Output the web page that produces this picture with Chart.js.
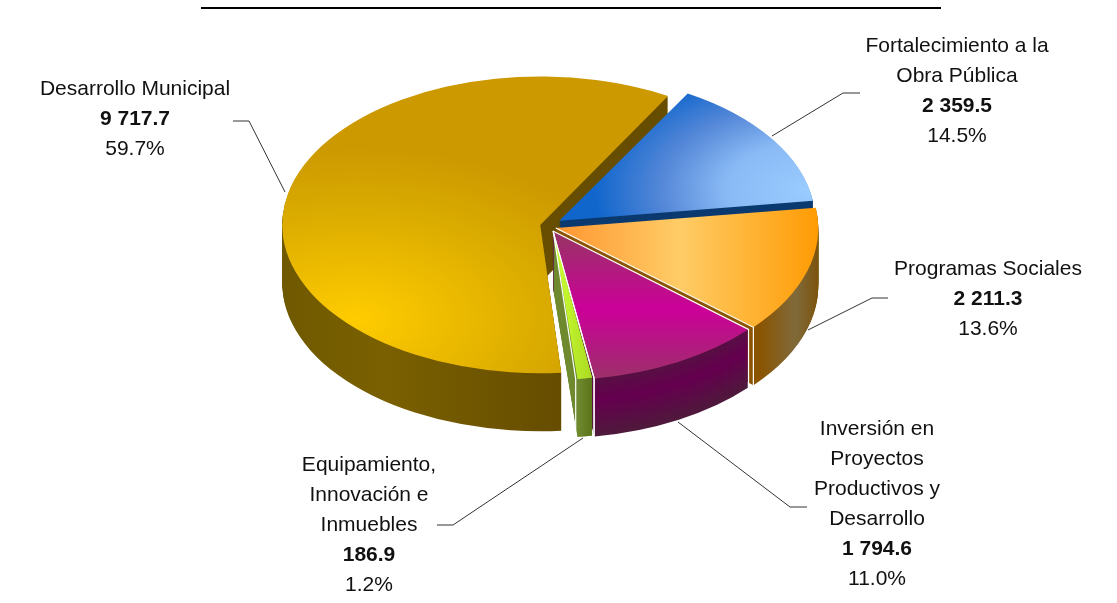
<!DOCTYPE html>
<html>
<head>
<meta charset="utf-8">
<style>
  html, body { margin: 0; padding: 0; background: #fff; }
  #wrap { width: 1117px; height: 603px; }
</style>
<script src="https://cdn.jsdelivr.net/npm/chart.js@4"></script>
</head>
<body>
<div id="wrap"><canvas id="myChart" width="1117" height="603"></canvas></div>
<script>
const categories = ['Desarrollo Municipal', 'Fortalecimiento a la Obra Pública', 'Programas Sociales', 'Inversión en Proyectos Productivos y Desarrollo', 'Equipamiento, Innovación e Inmuebles'];
const values = [9717.7, 2359.5, 2211.3, 1794.6, 186.9];
const valueLabels = ['9 717.7', '2 359.5', '2 211.3', '1 794.6', '186.9'];
const percentLabels = ['59.7%', '14.5%', '13.6%', '11.0%', '1.2%'];
const nameLines = [
  ['Desarrollo Municipal'],
  ['Fortalecimiento a la', 'Obra Pública'],
  ['Programas Sociales'],
  ['Inversión en', 'Proyectos', 'Productivos y', 'Desarrollo'],
  ['Equipamiento,', 'Innovación e', 'Inmuebles']
];
const baseColors = ['#CC9900', '#3377DD', '#FFBB55', '#CC0099', '#BBEE22'];

// layout of the fake 3D pie, in page pixels
const CX = 549, CY = 226, TILT = 0.575, DEPTH = 58;
const radiusTweak = [-3, 2, 9, 5, -8];
const sliceNudge = [[0, 0], [2, -2], [1, 1], [0, 1], [3, 0]];
const whiteEdges = [false, false, true, true, true];
const labelBoxes = [[135, 89], [957, 46], [988, 269], [877, 429], [369, 465]];
const leaders = [
  [[233, 121], [249, 121], [285, 192]],
  [[860, 93], [843, 93], [772, 136]],
  [[888, 298], [872, 298], [808, 330]],
  [[807, 507], [790, 507], [678, 422]],
  [[437, 525], [453, 525], [583, 438]]
];

function mix(a, b, t) {
  const pa = [1, 3, 5].map(n => parseInt(a.substr(n, 2), 16));
  const pb = [1, 3, 5].map(n => parseInt(b.substr(n, 2), 16));
  return 'rgb(' + pa.map((v, n) => Math.round(v + (pb[n] - v) * t)).join(',') + ')';
}

const pie3d = {
  id: 'pie3d',
  beforeDatasetDraw(chart, args) {
    const ctx = chart.ctx;
    const arcs = args.meta.data;
    const ax = arcs[0].x, ay = arcs[0].y;
    // page coords -> chart coords under the tilt transform
    const fx = x => x - CX + ax;
    const fy = y => (y - CY) / TILT + ay;
    const linear = (x0, y0, x1, y1, stops) => {
      const g = ctx.createLinearGradient(fx(x0), fy(y0), fx(x1), fy(y1));
      stops.forEach(s => g.addColorStop(s[0], s[1]));
      return g;
    };
    const radial = (x, y, r, stops) => {
      const g = ctx.createRadialGradient(fx(x), fy(y), 0, fx(x), fy(y), r);
      stops.forEach(s => g.addColorStop(s[0], s[1]));
      return g;
    };
    const faces = [
      radial(365, 320, 300, [[0, '#FFCC00'], [0.65, '#D9AA00'], [1, '#CC9900']]),
      radial(800, 195, 240, [[0, '#99CCFF'], [0.35, '#8ABAF5'], [0.62, '#5588D8'], [0.9, '#1166CC'], [1, '#1166CC']]),
      linear(555, 0, 818, 0, [[0, '#FF9933'], [0.45, '#FFCC66'], [1, '#FF9900']]),
      linear(0, 230, 0, 378, [[0, '#993366'], [0.5, '#CC0099'], [1, '#993366']]),
      linear(550, 0, 590, 0, [[0, '#CCFF33'], [1, '#A8D820']])
    ];
    const walls = [
      () => linear(281, 0, 565, 0, [[0, '#6E5800'], [0.4, '#7A6000'], [1, '#664D00']]),
      () => '#0B3A70',
      () => linear(752, 0, 818, 0, [[0, '#8A5400'], [0.55, '#806A3A'], [1, '#7A4E00']]),
      d => mix('#660050', '#4F1A3C', Math.abs(d - 22) / 36),
      () => linear(574, 0, 595, 0, [[0, '#6F8A2E'], [1, '#50660F']])
    ];
    const paint = (arc, fill) => {
      const o = arc.options;
      arc.options = Object.assign({}, o, { backgroundColor: fill, borderWidth: 0 });
      arc.draw(ctx);
      arc.options = o;
    };
    ctx.save();
    ctx.translate(CX, CY);
    ctx.scale(1, TILT);
    ctx.translate(-ax, -ay);
    arcs.forEach((arc, i) => {
      const r0 = arc.outerRadius;
      arc.outerRadius = r0 + radiusTweak[i];
      ctx.save();
      ctx.translate(sliceNudge[i][0], sliceNudge[i][1] / TILT);
      for (let d = DEPTH; d >= 1; d--) {
        ctx.save();
        ctx.translate(0, d / TILT);
        paint(arc, walls[i](d));
        ctx.restore();
      }
      paint(arc, faces[i]);
      ctx.restore();
      if (whiteEdges[i]) {
        // thin white seam along the slice's two cut edges, then down the wall
        const mid = (arc.startAngle + arc.endAngle) / 2;
        const off = arc.options.offset / 4;
        const span = arc.endAngle - arc.startAngle;
        const r = arc.outerRadius + off * (1 - Math.sin(Math.min(Math.PI, span)));
        const px = CX + Math.cos(mid) * off + sliceNudge[i][0];
        const py = CY + Math.sin(mid) * off * TILT + sliceNudge[i][1];
        ctx.save();
        ctx.setTransform(1, 0, 0, 1, 0, 0);
        ctx.strokeStyle = '#fff';
        ctx.lineWidth = 1.2;
        [arc.startAngle, arc.endAngle].forEach((a, n) => {
          if (i === 2 && n === 0) return;
          const ex = px + Math.cos(a) * r, ey = py + Math.sin(a) * r * TILT;
          ctx.beginPath();
          ctx.moveTo(px, py);
          ctx.lineTo(ex, ey);
          ctx.lineTo(ex, ey + DEPTH);
          ctx.stroke();
        });
        ctx.restore();
      }
      arc.outerRadius = r0;
    });
    ctx.restore();
    return false;
  },
  afterDraw(chart) {
    const ctx = chart.ctx;
    ctx.save();
    ctx.strokeStyle = '#000';
    ctx.lineWidth = 2;
    ctx.beginPath();
    ctx.moveTo(201, 8);
    ctx.lineTo(941, 8);
    ctx.stroke();

    ctx.strokeStyle = '#333';
    ctx.lineWidth = 1;
    leaders.forEach(pts => {
      ctx.beginPath();
      pts.forEach((p, n) => n ? ctx.lineTo(p[0], p[1]) : ctx.moveTo(p[0], p[1]));
      ctx.stroke();
    });

    ctx.textAlign = 'center';
    ctx.textBaseline = 'middle';
    ctx.fillStyle = '#111';
    nameLines.forEach((lines, i) => {
      const x = labelBoxes[i][0];
      let y = labelBoxes[i][1];
      ctx.font = '21px "Liberation Sans"';
      lines.forEach(t => { ctx.fillText(t, x, y); y += 30; });
      ctx.font = 'bold 21px "Liberation Sans"';
      ctx.fillText(valueLabels[i], x, y); y += 30;
      ctx.font = '21px "Liberation Sans"';
      ctx.fillText(percentLabels[i], x, y);
    });
    ctx.restore();
  }
};

new Chart(document.getElementById('myChart'), {
  type: 'pie',
  data: {
    labels: categories,
    datasets: [{
      data: values,
      backgroundColor: baseColors,
      borderWidth: 0,
      offset: [36, 40, 24, 32, 48]
    }]
  },
  options: {
    responsive: false,
    animation: false,
    rotation: -185,
    radius: 252,
    layout: { padding: 0 },
    plugins: { legend: { display: false }, tooltip: { enabled: false } }
  },
  plugins: [pie3d]
});
</script>
</body>
</html>
